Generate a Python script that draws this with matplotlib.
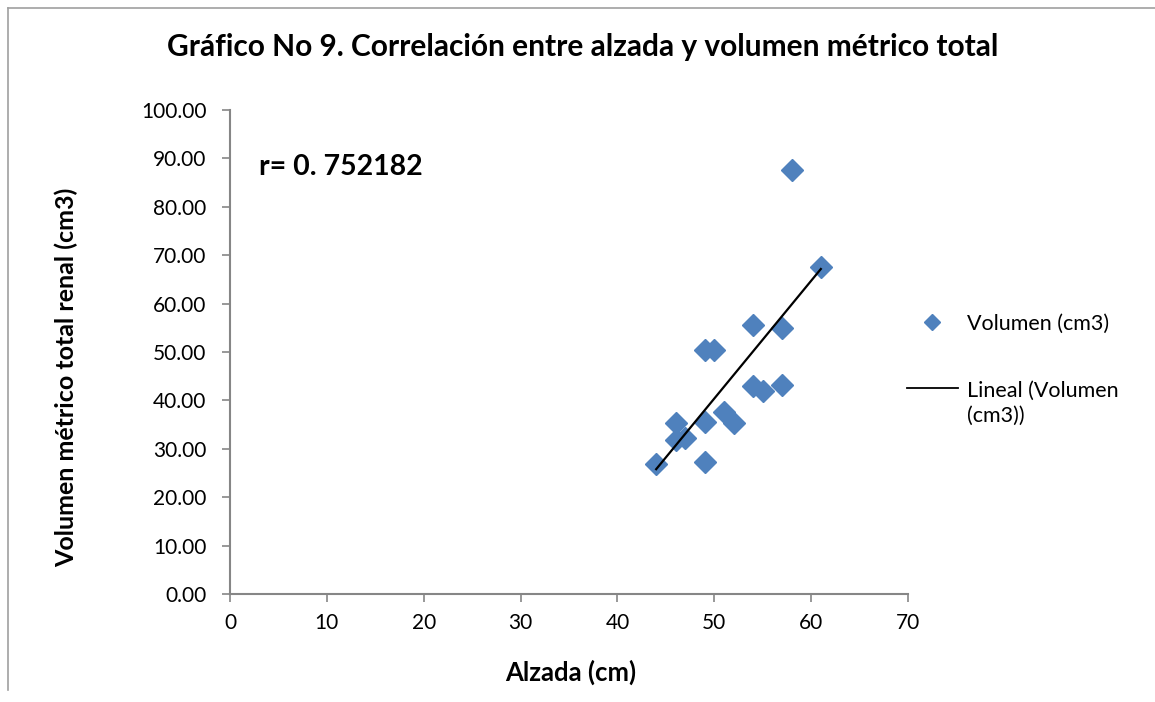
import matplotlib
matplotlib.use("Agg")
import matplotlib.pyplot as plt
import numpy as np
from matplotlib.lines import Line2D

plt.rcParams['font.family'] = ['Lato', 'DejaVu Sans']

alzada = [58, 61, 54, 57, 49, 50, 54, 55, 57, 51, 52, 49, 46, 46, 47, 49, 44]
volumen = [87.7, 67.6, 55.6, 55.0, 50.5, 50.4, 43.0, 42.0, 43.2, 37.7, 35.3, 35.6, 35.4, 31.8, 32.2, 27.2, 26.9]
xticks = [0, 10, 20, 30, 40, 50, 60, 70]
yticks = [0, 10, 20, 30, 40, 50, 60, 70, 80, 90, 100]

W, H = 1155, 702
fig = plt.figure(figsize=(W / 100, H / 100), dpi=100)
ax = fig.add_axes([230 / W, 1 - 594 / H, (908 - 230) / W, (594 - 110) / H])

blue = '#4F81BD'
ax.plot(alzada, volumen, linestyle='none', marker='D', markersize=11.5,
        color=blue, markeredgecolor=blue)

m, b = np.polyfit(alzada, volumen, 1)
xs = np.array([min(alzada), max(alzada)])
ax.plot(xs, m * xs + b, color='black', linewidth=1.6)

ax.set_xlim(0, 70)
ax.set_ylim(0, 100)
ax.set_xticks(xticks)
ax.set_yticks(yticks)
ax.set_yticklabels([f"{v:.2f}" for v in yticks])
gray = '#868686'
for s in ['top', 'right']:
    ax.spines[s].set_visible(False)
for s in ['left', 'bottom']:
    ax.spines[s].set_color(gray)
    ax.spines[s].set_linewidth(1.5)
ax.tick_params(axis='both', direction='out', length=6, width=1.2, color=gray,
               labelsize=15, labelcolor='black')
ax.tick_params(axis='x', pad=8)
ax.tick_params(axis='y', pad=11)

fig.text(571 / W, 1 - 672 / H, 'Alzada (cm)', fontsize=18.5, fontweight='bold',
         ha='center', va='center')
fig.text(66 / W, 1 - 377 / H, 'Volumen métrico total renal (cm3)', fontsize=18, fontweight='bold',
         ha='center', va='center', rotation=90)

fig.text(583 / W, 1 - 47 / H, 'Gráfico No 9. Correlación entre alzada y volumen métrico total',
         ha='center', va='center', fontsize=21.5, fontweight='bold')
ax.text(3, 88.3, 'r= 0. 752182', fontsize=20.5, fontweight='bold', ha='left', va='center')

# legend (manual)
fig.add_artist(Line2D([932 / W], [1 - 322 / H], marker='D', markersize=8.5,
                      color=blue, linestyle='none'))
fig.text(967 / W, 1 - 324 / H, 'Volumen (cm3)', fontsize=15.5, va='center', ha='left')
fig.add_artist(Line2D([907 / W, 958 / W], [1 - 388 / H, 1 - 388 / H], color='black', linewidth=1.3))
fig.text(967 / W, 1 - 403 / H, 'Lineal (Volumen\n(cm3))', fontsize=15.5, va='center', ha='left',
         linespacing=1.3)

# outer border
fig.add_artist(Line2D([8 / W, 8 / W], [1 - 8 / H, 1 - 690 / H], color='#A0A0A0', linewidth=1.2))
fig.add_artist(Line2D([8 / W, 1.0], [1 - 8 / H, 1 - 8 / H], color='#A0A0A0', linewidth=1.2))

fig.savefig('out.png', dpi=100)
